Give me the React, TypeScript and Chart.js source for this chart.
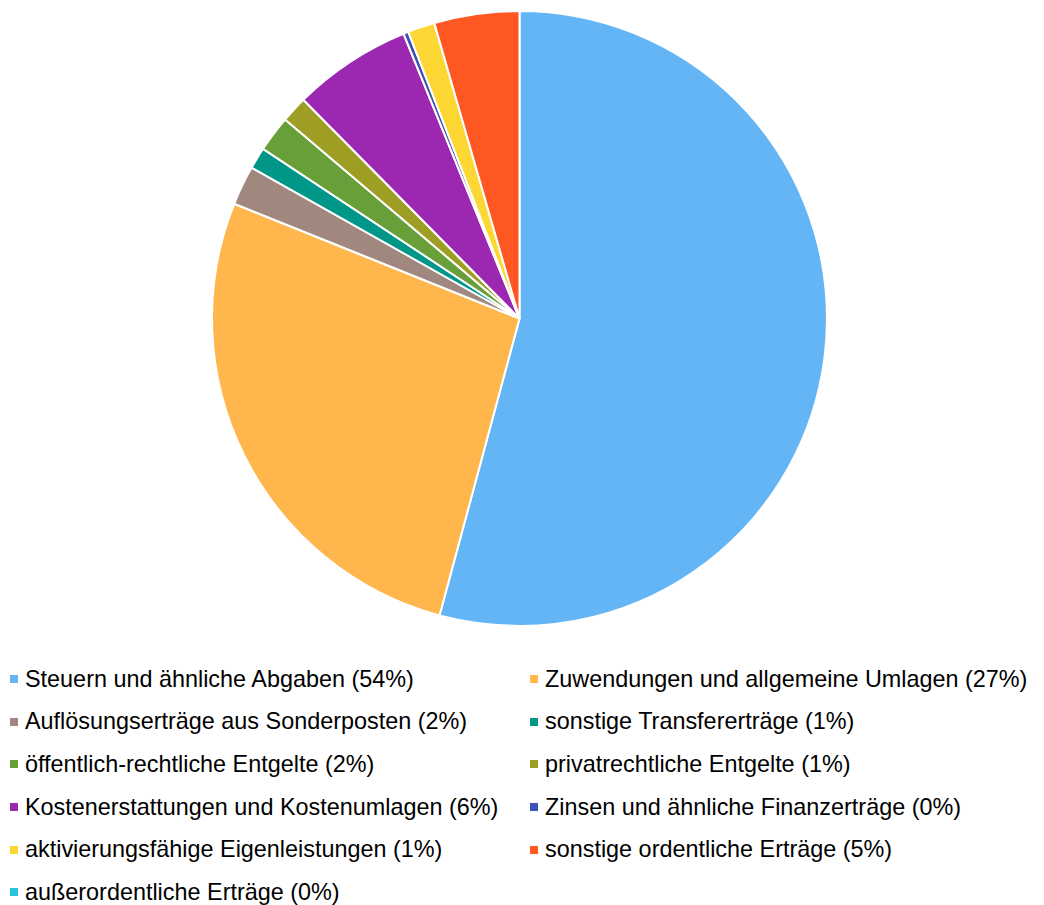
import React, { useEffect, useRef } from "react";
import { Chart, registerables } from "chart.js";

Chart.register(...registerables);

const categories = [
  "Steuern und ähnliche Abgaben",
  "Zuwendungen und allgemeine Umlagen",
  "Auflösungserträge aus Sonderposten",
  "sonstige Transfererträge",
  "öffentlich-rechtliche Entgelte",
  "privatrechtliche Entgelte",
  "Kostenerstattungen und Kostenumlagen",
  "Zinsen und ähnliche Finanzerträge",
  "aktivierungsfähige Eigenleistungen",
  "sonstige ordentliche Erträge",
  "außerordentliche Erträge",
];

const shares = [54.2, 26.9, 2.08, 1.14, 1.9, 1.39, 6.25, 0.27, 1.42, 4.47, 0];

const percentLabels = ["54%", "27%", "2%", "1%", "2%", "1%", "6%", "0%", "1%", "5%", "0%"];

const colors = [
  "#64B5F6",
  "#FFB74D",
  "#A1887F",
  "#009688",
  "#689F38",
  "#9E9D24",
  "#9C27B0",
  "#3F51B5",
  "#FDD835",
  "#FF5722",
  "#26C6DA",
];

export default function App() {
  const canvasRef = useRef<HTMLCanvasElement | null>(null);

  useEffect(() => {
    document.body.style.margin = "0";
    const ctx = canvasRef.current;
    if (!ctx) return;
    const chart = new Chart(ctx, {
      type: "pie",
      data: {
        labels: categories,
        datasets: [
          {
            data: shares,
            backgroundColor: colors,
            borderColor: "#ffffff",
            borderWidth: 2,
          },
        ],
      },
      options: {
        animation: false,
        responsive: false,
        maintainAspectRatio: false,
        layout: { padding: { top: 10, bottom: 10, left: 0, right: 5 } },
        plugins: {
          legend: { display: false },
          tooltip: { enabled: false },
        },
      },
    });
    return () => chart.destroy();
  }, []);

  return (
    <div
      style={{
        position: "relative",
        width: 1044,
        height: 905,
        background: "#ffffff",
        fontFamily: "'Liberation Sans', Arial, sans-serif",
      }}
    >
      <canvas
        ref={canvasRef}
        width={1044}
        height={637}
        style={{ position: "absolute", left: 0, top: 0, width: 1044, height: 637 }}
      />
      <div
        style={{
          position: "absolute",
          left: 10,
          top: 658,
          display: "grid",
          gridTemplateColumns: "520px 514px",
          gridAutoRows: "42.6px",
          alignItems: "center",
        }}
      >
        {categories.map((c, i) => (
          <div
            key={c}
            style={{
              display: "flex",
              alignItems: "center",
              fontSize: 23.4,
              color: "#000",
              whiteSpace: "nowrap",
            }}
          >
            <span
              style={{
                display: "inline-block",
                width: 8,
                height: 8,
                background: colors[i],
                marginRight: 7,
                flex: "none",
              }}
            />
            <span>{`${c} (${percentLabels[i]})`}</span>
          </div>
        ))}
      </div>
    </div>
  );
}
